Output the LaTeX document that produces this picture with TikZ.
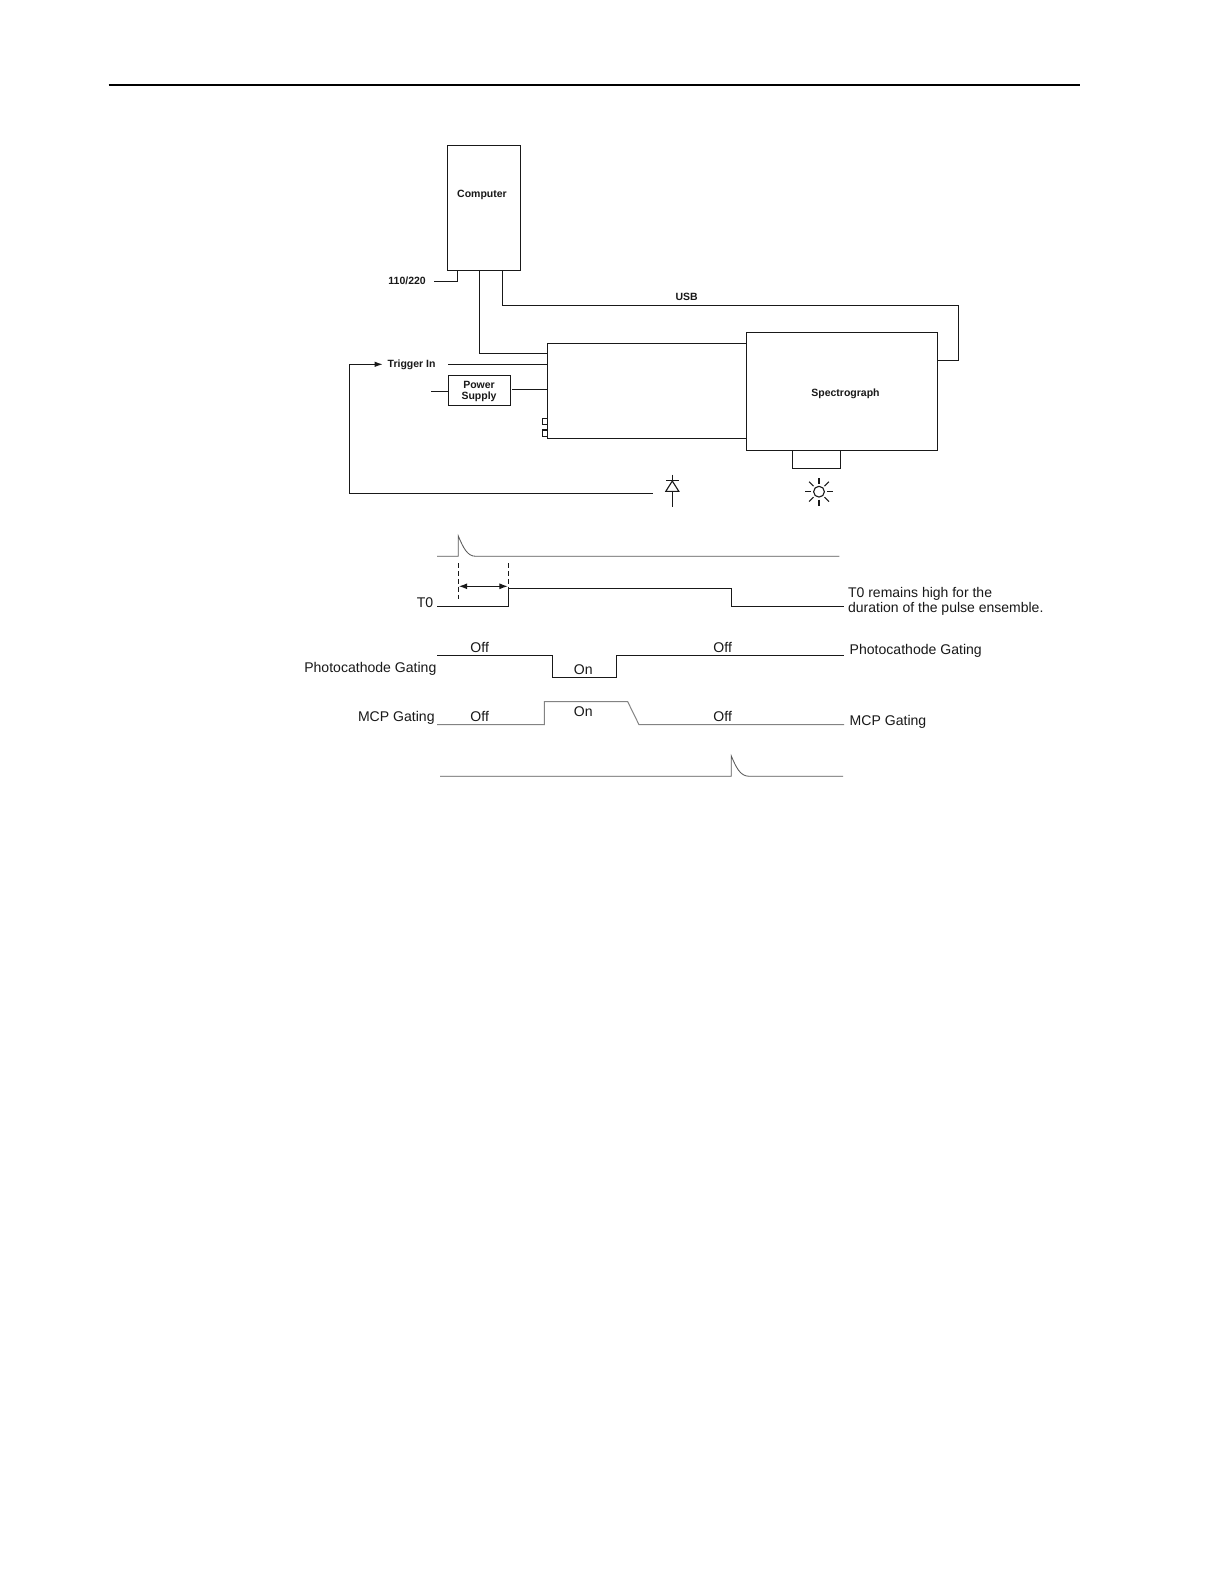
\documentclass[tikz,border=0pt]{standalone}
\usepackage{fontspec}
\setmainfont{Liberation Sans}
\usetikzlibrary{arrows.meta,calc}
\definecolor{ink}{gray}{0.1}
\definecolor{trace}{gray}{0.35}
\tikzset{
  x=0.5pt,y=-0.5pt,
  wire/.style={draw=ink,line width=0.7pt,line cap=butt,line join=miter},
  thin trace/.style={draw=trace,line width=0.42pt,line join=miter},
  mcp trace/.style={draw=trace!75,line width=0.5pt,line join=miter},
  dashmark/.style={draw=ink,line width=0.55pt,dash pattern=on 2.5pt off 1.4pt},
  boxnode/.style={draw=ink,line width=0.7pt,rectangle,inner sep=0pt,outer sep=0pt,fill=white},
  blabel/.style={font=\fontsize{5.25}{5.4}\selectfont\bfseries,text=ink,inner sep=0pt,align=center},
  tlabel/.style={font=\fontsize{7.03}{7.2}\selectfont,text=ink,inner sep=0pt},
  lt/.style={tlabel,anchor=west},
  rt/.style={tlabel,anchor=east},
  ct/.style={tlabel,anchor=center},
}
\begin{document}
\begin{tikzpicture}
\useasboundingbox (0,0) rectangle (1224,1584);
\fill[white] (0,0) rectangle (1224,1584);

% page rule
\coordinate (ruleL) at (108.5,85);
\coordinate (ruleR) at (1080,85);
\draw[draw=black,line width=0.85pt] (ruleL) -- (ruleR);

% blocks
\node[boxnode,minimum width=36.6pt,minimum height=62.5pt] (computer) at (484.1,207.8) {};
\node[blabel] (computerlab) at (482,195.3) {Computer};
\node[boxnode,minimum width=99.5pt,minimum height=47.5pt] (camera) at (646.8,390.8) {};
\node[boxnode,minimum width=95.7pt,minimum height=59pt] (spectro) at (842,391.3) {};
\node[blabel] (spectrolab) at (845.5,394) {Spectrograph};
\node[boxnode,minimum width=24pt,minimum height=9pt] (slit) at (816.3,459.3) {};
\node[boxnode,minimum width=31.2pt,minimum height=14.8pt] (psu) at (479.5,390.5) {};
\node[blabel] (psulab) at (479,391.5) {Power\\Supply};
\node[boxnode,minimum width=2.5pt,minimum height=3.2pt] (portA) at (544.8,421.5) {};
\node[boxnode,minimum width=2.5pt,minimum height=3.2pt] (portB) at (544.8,433.3) {};

\node[blabel,anchor=west] (acl) at (388,281) {110/220};
\node[blabel,anchor=west] (trig) at (387.3,365) {Trigger In};
\node[blabel] (usb) at (686.7,296.7) {USB};

% connectors, top part
\coordinate (compA) at (457.3,270.3);
\coordinate (acEnd) at (434,281.3);
\draw[wire] (compA) |- (acEnd);
\coordinate (compB) at (479.3,270.3);
\coordinate (camIn) at (547.3,353.3);
\draw[wire] (compB) |- (camIn);
\coordinate (compC) at (502.3,270.3);
\coordinate (usbTop) at (958.3,305.3);
\coordinate (specR) at (937.7,360.3);
\draw[wire] (compC) |- (usbTop) |- (specR);
\coordinate (trigEnd) at (448,364.3);
\coordinate (camTrig) at (547.3,364.3);
\draw[wire] (trigEnd) -- (camTrig);
\coordinate (psuInEnd) at (431,391.3);
\coordinate (psuIn) at (448.3,391.3);
\draw[wire] (psuInEnd) -- (psuIn);
\coordinate (psuOut) at (512,389.3);
\coordinate (camPow) at (547.3,389.3);
\draw[wire] (psuOut) -- (camPow);
\coordinate (diodeLine) at (652.7,493.3);
\coordinate (trigArrow) at (383,364.3);
\coordinate (corner) at (349.3,364.3);
\draw[wire,-{Latex[length=4.2pt,width=2.8pt]}] (diodeLine) -| (corner) -- (trigArrow);

% photodiode
\coordinate (dTop) at (672.3,474.7);
\coordinate (dBot) at (672.3,506.7);
\draw[wire,line width=0.55pt] (dTop) -- (672.3,481);
\draw[wire,line width=0.55pt] (672.3,491.3) -- (dBot);
\draw[wire,line width=0.55pt] (666,480.6) -- (678.6,480.6);
\draw[wire,line width=0.55pt] (672.3,481) -- (665.8,491.3) -- (678.8,491.3) -- cycle;

% lamp
\draw[wire,line width=0.55pt] (819,491.7) circle [radius=5.4];
\foreach \a in {0,45,...,315}{
  \draw[wire,line width=0.55pt] ($(819,491.7)+(\a:7.8)$) -- ($(819,491.7)+(\a:14)$);
}

% laser pulse
\draw[thin trace] (437,556.3) -- (458.3,556.3) -- (458.3,536)
  .. controls (463,547) and (467,556.3) .. (475.7,556.3) -- (839.3,556.3);
% delay markers
\coordinate (dashA) at (458.3,563.3);
\coordinate (dashAe) at (458.3,599);
\coordinate (dashB) at (508.3,563.3);
\coordinate (dashBe) at (508.3,590);
\draw[dashmark] (dashA) -- (dashAe);
\draw[dashmark] (dashB) -- (dashBe);
\draw[wire,line width=0.55pt,{Latex[length=4.2pt,width=3pt]}-{Latex[length=4.2pt,width=3pt]}] (458.8,586.3) -- (507.8,586.3);
% T0
\draw[wire] (437,606.3) -- (508.6,606.3) -- (508.6,588.3) -- (731.3,588.3) -- (731.3,606.3) -- (844,606.3);
\node[rt] (t0) at (433.6,602.5) {T0};
\node[lt,align=left,font=\fontsize{7.0}{7.2}\selectfont] (t0note) at (847.7,601.5) {T0 remains high for the\\duration of the pulse ensemble.};
% photocathode
\draw[wire] (437,655.3) -- (552.3,655.3) -- (552.3,677.3) -- (616.3,677.3) -- (616.3,655.3) -- (844,655.3);
\node[ct] (off1) at (479.7,647.5) {Off};
\node[ct] (on1) at (583.3,670) {On};
\node[ct] (off2) at (722.7,647.5) {Off};
\node[rt] (pgL) at (436.8,669) {Photocathode Gating};
\node[lt] (pgR) at (849.3,650.5) {Photocathode Gating};
% MCP
\draw[mcp trace] (437,724.7) -- (544.3,724.7) -- (544.3,701.7) -- (627.7,701.7) -- (639,724.7) -- (844,724.7);
\node[ct] (off3) at (479.7,716.5) {Off};
\node[ct] (on2) at (583.3,711.5) {On};
\node[ct] (off4) at (722.7,716.5) {Off};
\node[rt] (mgL) at (435,718) {MCP Gating};
\node[lt] (mgR) at (849.3,721.5) {MCP Gating};
% output pulse
\draw[thin trace] (440,776.3) -- (731.3,776.3) -- (731.3,756)
  .. controls (736,767) and (740,776.3) .. (749.3,776.3) -- (843,776.3);
\end{tikzpicture}
\end{document}
